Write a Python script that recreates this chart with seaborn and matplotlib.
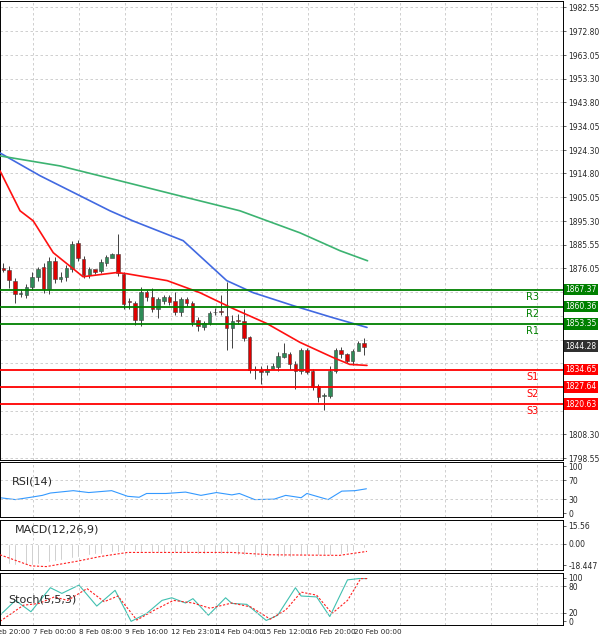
import numpy as np
import pandas as pd
import matplotlib
matplotlib.use("Agg")
import matplotlib.pyplot as plt
import matplotlib.transforms as mtrans
import seaborn as sns

sns.set_style("white")

opens = [1876.0,1875.5,1871.0,1865.6,1865.3,1868.3,1872.4,1876.4,1867.6,1879.1,1871.7,1872.4,1875.8,1886.2,1879.8,1873.4,
         1875.8,1875.0,1878.0,1880.2,1881.8,1873.7,1862.2,1861.7,1855.0,1866.2,1864.5,1859.4,1862.8,1864.2,1862.8,1858.1,
         1863.5,1861.7,1855.1,1852.2,1853.6,1858.0,1858.1,1856.7,1851.7,1854.7,1854.4,1847.9,1834.7,1834.7,1833.7,1835.0,
         1835.7,1840.0,1840.9,1837.1,1834.1,1842.7,1834.1,1828.0,1823.9,1823.9,1834.3,1842.5,1840.9,1838.1,1842.2,1845.6]
closes = [1875.5,1871.3,1865.6,1865.8,1868.3,1872.4,1875.8,1867.6,1879.1,1871.7,1872.6,1876.2,1885.9,1880.2,1873.4,1875.8,
          1874.4,1878.8,1880.5,1881.8,1874.0,1861.5,1862.0,1855.0,1866.2,1864.2,1859.4,1863.5,1864.2,1862.2,1858.1,1863.5,
          1861.7,1854.0,1852.4,1853.6,1857.7,1858.1,1858.0,1851.7,1854.7,1854.6,1847.6,1834.7,1834.8,1833.7,1835.0,1836.1,
          1840.4,1841.4,1837.1,1834.1,1842.5,1833.7,1827.6,1823.5,1824.0,1834.3,1842.5,1840.9,1838.1,1842.2,1845.6,1844.1]
highs = [1878.0,1876.8,1872.0,1867.5,1869.5,1874.5,1876.5,1878.0,1880.5,1880.5,1874.5,1877.5,1887.0,1887.5,1881.0,1876.5,
         1875.5,1880.0,1881.5,1882.1,1890.0,1874.5,1864.0,1862.5,1868.5,1867.0,1868.0,1864.5,1865.0,1865.0,1866.5,1864.5,
         1864.5,1862.5,1856.0,1854.5,1858.5,1860.0,1865.0,1870.3,1857.0,1857.5,1859.5,1848.5,1836.0,1836.0,1836.5,1837.5,
         1842.0,1845.5,1842.0,1838.0,1843.5,1843.5,1835.0,1829.0,1825.0,1836.0,1843.5,1844.0,1841.5,1843.0,1846.5,1847.7]
lows = [1874.5,1868.0,1862.0,1864.5,1864.0,1867.0,1871.0,1866.0,1865.5,1870.0,1870.5,1871.0,1874.5,1879.0,1872.0,1872.0,
        1873.5,1874.0,1877.0,1880.5,1873.0,1859.4,1859.5,1853.0,1852.5,1862.5,1858.0,1855.8,1861.5,1861.0,1857.0,1856.5,
        1860.5,1852.5,1850.5,1851.0,1853.0,1857.0,1857.0,1842.8,1843.6,1853.5,1846.5,1833.5,1831.0,1829.0,1832.5,1835.0,
        1834.0,1839.5,1835.0,1826.9,1833.0,1833.0,1826.5,1821.5,1818.1,1823.0,1833.5,1839.5,1837.5,1836.5,1843.0,1840.5]

red_ma_x = [-0.6,2.9,5.2,8.7,13.9,19.8,21.6,28.6,34.3,40.1,46.0,51.8,57.5,60.5,63.5]
red_ma_y = [1915.8,1899.5,1895.4,1882.4,1872.6,1874.3,1873.8,1871.0,1866.1,1859.6,1853.5,1845.8,1839.7,1836.8,1836.4]
blue_ma_x = [-0.6,6.4,13.4,18.6,22.6,31.4,39.0,43.6,50.6,57.5,63.5]
blue_ma_y = [1923.1,1913.8,1905.6,1899.5,1895.4,1887.3,1871.0,1866.1,1860.8,1855.9,1851.9]
green_ma_x = [-0.6,9.9,20.4,30.8,41.3,51.8,58.8,63.6]
green_ma_y = [1921.9,1917.8,1911.7,1905.6,1899.5,1890.5,1883.2,1879.1]

res_names = ["R3","R2","R1"]
res_levels = [1867.37,1860.36,1853.35]
sup_names = ["S1","S2","S3"]
sup_levels = [1834.65,1827.64,1820.63]
last_price = 1844.28

price_ticks = [1982.55,1972.80,1963.05,1953.30,1943.80,1934.05,1924.30,1914.80,1905.05,1895.30,1885.55,
               1876.05,1866.30,1856.55,1846.80,1837.30,1827.55,1817.80,1808.30,1798.55]

rsi_x = [-0.6,2.1,4.8,6.8,8.2,12.2,14.9,18.9,21.7,23.7,25.0,28.4,31.8,34.5,37.2,39.9,41.2,43.9,47.3,49.3,52.0,53.0,56.7,59.1,61.4,63.4]
rsi_y = [33,29,34,38,43,48,44,48,36,34,42,42,45,38,44,39,42,29,30,38,33,42,29,47,48,52]

macd_hist = [-17,-17.5,-18,-18,-18,-18,-17.5,-17,-16,-15,-14,-13,-12,-11,-10,-9.5,
             -9,-8.5,-8,-7.5,-7,-6.5,-6.5,-6.5,-7,-7,-7.5,-7.5,-8,-8,-8,-8,
             -8,-8,-8.5,-8.5,-8.5,-8.5,-8.5,-9,-9,-9.5,-10,-10.5,-11,-11.5,-11.5,-11.5,
             -11.5,-11,-11,-10.5,-10,-10,-9.5,-9.5,-10,-10,-9.5,-8.5,-7,-6,-5,-4]
macd_sig_x = [-0.6,4.8,7.5,12.9,16.9,21.7,39.9,46.6,58.7,63.5]
macd_sig_y = [-9.5,-19,-19.6,-15,-11,-7.5,-7.5,-9.5,-10,-6.6]

stoch_k_x = [-0.6,2.1,4.8,8.2,10.2,13.2,16.3,19.5,22.3,25.0,27.7,29.4,31.8,33.1,35.8,38.8,39.9,42.5,45.9,47.9,51.0,52.0,54.7,57.0,60.1,62.1,63.5]
stoch_k_y = [14,48,22,77,64,83,35,71,0,18,48,54,42,52,14,54,41,39,2,14,77,58,56,11,95,98,98]
stoch_d_x = [-0.6,3.5,6.2,8.9,11.2,14.6,17.6,20.0,23.3,26.4,29.7,33.1,36.1,39.9,43.2,46.6,49.3,52.0,54.7,57.4,60.1,62.4,63.5]
stoch_d_y = [0,37,41,56,48,75,45,58,3,26,48,42,30,42,33,5,26,67,60,18,48,98,98]

date_labels = ["6 Feb 20:00","7 Feb 00:00","8 Feb 08:00","9 Feb 16:00","12 Feb 23:01",
               "14 Feb 04:00","15 Feb 12:00","16 Feb 20:00","20 Feb 00:00"]
date_pos = [-2.8,5.2,13.2,21.2,29.2,37.2,45.2,53.2,61.2]
grid_pos = [5.2,13.2,21.2,29.2,37.2,45.2,53.2,61.2,69.2,77.2,85.2,93.2]

fig = plt.figure(figsize=(6.0, 6.41), dpi=100)
XL = (-0.6, 97.7)
ax = fig.add_axes([0.0, 0.282, 0.938, 0.716])
ax_rsi = fig.add_axes([0.0, 0.193, 0.938, 0.086])
ax_macd = fig.add_axes([0.0, 0.111, 0.938, 0.078])
ax_st = fig.add_axes([0.0, 0.025, 0.938, 0.081])
axes = [ax, ax_rsi, ax_macd, ax_st]

grid_kw = dict(color="#c8c8c8", linestyle=(0, (3, 3)), linewidth=0.6)
tick_fs = 5.5

# main price panel
idx = np.arange(len(opens))
df = pd.DataFrame({"i": idx, "o": opens, "c": closes, "h": highs, "l": lows})
ax.vlines(df.i, df.l, df.h, color="#404040", linewidth=0.7, zorder=3)
up = df.c >= df.o
cols = np.where(up, "#2e8b57", "#e00000")
ax.bar(df.i, (df.c - df.o).where((df.c - df.o).abs() > 0.3, 0.3), bottom=df.o, width=0.62,
       color=cols, edgecolor="#404040", linewidth=0.4, zorder=4)

sns.lineplot(x=red_ma_x, y=red_ma_y, ax=ax, color="#ff1010", linewidth=1.2, zorder=5)
sns.lineplot(x=blue_ma_x, y=blue_ma_y, ax=ax, color="#4169e1", linewidth=1.2, zorder=5)
sns.lineplot(x=green_ma_x, y=green_ma_y, ax=ax, color="#3cb371", linewidth=1.2, zorder=5)

box_levels = res_levels + sup_levels + [last_price]
ax.set_ylim(1797.7, 1985.0)
shown = [v for v in price_ticks if min(abs(v - b) for b in box_levels) > 3.6]
ax.set_yticks(shown)
ax.set_yticklabels([f"{v:.2f}" for v in shown])
for v in price_ticks:
    ax.axhline(v, zorder=0, **grid_kw)

trans = mtrans.blended_transform_factory(ax.transAxes, ax.transData)
for n, v in zip(res_names, res_levels):
    ax.axhline(v, color="#008000", linewidth=1.3, zorder=6)
    ax.text(92.4, v - 3.0, n, color="#008000", fontsize=7, ha="center", va="center")
    ax.text(1.005, v, f"{v:.2f}", transform=trans, fontsize=tick_fs, color="white", va="center", ha="left",
            bbox=dict(boxstyle="square,pad=0.15", fc="#008000", ec="none"), clip_on=False, zorder=10)
for n, v in zip(sup_names, sup_levels):
    ax.axhline(v, color="#ff0000", linewidth=1.3, zorder=6)
    ax.text(92.4, v - 3.0, n, color="#ff0000", fontsize=7, ha="center", va="center")
    ax.text(1.005, v, f"{v:.2f}", transform=trans, fontsize=tick_fs, color="white", va="center", ha="left",
            bbox=dict(boxstyle="square,pad=0.15", fc="#ff0000", ec="none"), clip_on=False, zorder=10)
ax.text(1.005, last_price, f"{last_price:.2f}", transform=trans, fontsize=tick_fs, color="white", va="center",
        ha="left", bbox=dict(boxstyle="square,pad=0.15", fc="#303030", ec="none"), clip_on=False, zorder=10)

# RSI
sns.lineplot(x=rsi_x, y=rsi_y, ax=ax_rsi, color="#3399ff", linewidth=0.8)
ax_rsi.set_ylim(-8.6, 108.6)
ax_rsi.set_yticks([0, 30, 70, 100])
for v in [30, 70]:
    ax_rsi.axhline(v, **grid_kw)
ax_rsi.text(1.5, 68, "RSI(14)", fontsize=8, va="center")

# MACD
ax_macd.bar(idx, macd_hist, width=0.3, color="#b4b4b4", zorder=2)
sns.lineplot(x=macd_sig_x, y=macd_sig_y, ax=ax_macd, color="#ff2020", linewidth=0.8,
             linestyle=(0, (2, 1.5)), zorder=3)
ax_macd.set_ylim(-22.4, 20.4)
ax_macd.set_yticks([-18.447, 0.0, 15.56])
ax_macd.set_yticklabels(["-18.447", "0.00", "15.56"])
ax_macd.axhline(0, **grid_kw)
ax_macd.text(2, 12, "MACD(12,26,9)", fontsize=8, va="center")

# Stochastic
sns.lineplot(x=stoch_k_x, y=stoch_k_y, ax=ax_st, color="#40c0b0", linewidth=0.8)
sns.lineplot(x=stoch_d_x, y=stoch_d_y, ax=ax_st, color="#ff2020", linewidth=0.8, linestyle=(0, (2, 1.5)))
ax_st.set_ylim(-8.3, 110.6)
ax_st.set_yticks([0, 20, 80, 100])
for v in [20, 80]:
    ax_st.axhline(v, **grid_kw)
ax_st.text(0.8, 50, "Stoch(5,5,3)", fontsize=8, va="center")

for a in axes:
    a.set_xlabel(""); a.set_ylabel("")
    a.yaxis.tick_right()
    a.tick_params(axis="y", labelsize=tick_fs, length=2, pad=2, width=0.5)
    a.tick_params(axis="x", length=0)
    a.set_xticks(grid_pos)
    a.set_xticklabels([])
    a.set_xlim(*XL)
    for s in a.spines.values():
        s.set_color("#000000"); s.set_linewidth(0.7)
    a.grid(True, axis="x", **grid_kw)

xt = mtrans.blended_transform_factory(ax_st.transData, ax_st.transAxes)
for p, lab in zip(date_pos, date_labels):
    ax_st.text(p, -0.07, lab, transform=xt, fontsize=5.2, ha="left", va="top", clip_on=False)

fig.savefig("out.png", dpi=100)
